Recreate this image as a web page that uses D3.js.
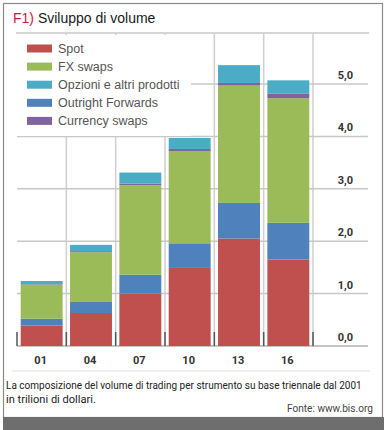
<!DOCTYPE html>
<html>
<head>
<meta charset="utf-8">
<script src="https://cdn.jsdelivr.net/npm/d3@7"></script>
<style>
  body { margin: 0; background: #fff; }
</style>
</head>
<body>
<div id="chart"></div>
<script>
// data: trillions of dollars, triennial survey
const years = ['01', '04', '07', '10', '13', '16'];
const spot = [0.39, 0.63, 1.00, 1.49, 2.05, 1.65];
const outright = [0.13, 0.21, 0.36, 0.47, 0.68, 0.70];
const fxSwaps = [0.65, 0.95, 1.71, 1.76, 2.24, 2.38];
const currencySwaps = [0.01, 0.02, 0.03, 0.04, 0.05, 0.09];
const options = [0.06, 0.12, 0.21, 0.21, 0.34, 0.25];
const yTicks = [0, 1, 2, 3, 4, 5];

// stack order bottom -> top
const series = [
    { key: 'spot', label: 'Spot', values: spot, color: '#c0504d' },
    { key: 'outright', label: 'Outright Forwards', values: outright, color: '#4f81bd' },
    { key: 'fx', label: 'FX swaps', values: fxSwaps, color: '#9bbb59' },
    { key: 'cs', label: 'Currency swaps', values: currencySwaps, color: '#8064a2' },
    { key: 'opt', label: 'Opzioni e altri prodotti', values: options, color: '#4bacc6' }
];
const legendOrder = ['spot', 'fx', 'opt', 'outright', 'cs'];

const width = 390, height = 430;

const table = years.map((yr, i) => {
    const row = { year: yr };
    series.forEach(s => row[s.key] = s.values[i]);
    return row;
});

const stack = d3.stack().keys(series.map(s => s.key));
const stacked = stack(table);

const x = d3.scaleBand()
    .domain(years)
    .range([17, 313])
    .paddingInner(0.15)
    .paddingOuter(0.075);

const y = d3.scaleLinear()
    .domain([0, 5])
    .range([346, 84]);

const color = d3.scaleOrdinal()
    .domain(series.map(s => s.key))
    .range(series.map(s => s.color));

const fmt = d3.formatLocale({ decimal: ',', thousands: '.', grouping: [3], currency: ['', '€'] }).format('.1f');

const svg = d3.create('svg')
    .attr('width', width)
    .attr('height', height)
    .style('font-family', 'Roboto, Arial, sans-serif');

document.getElementById('chart').appendChild(svg.node());

// frame + bottom shadow band
svg.append('rect')
    .attr('x', 3.5).attr('y', 3.5)
    .attr('width', 379).attr('height', 414)
    .attr('fill', '#fff')
    .attr('stroke', '#8a8a8a')
    .attr('stroke-width', 1.2);
svg.append('rect')
    .attr('x', 3).attr('y', 417)
    .attr('width', 381).attr('height', 13)
    .attr('fill', '#6e6e6e');

// title
const title = svg.append('text')
    .attr('x', 13)
    .attr('y', 23)
    .attr('font-size', '14px')
    .attr('font-family', 'Arial, Liberation Sans, sans-serif');
title.append('tspan').attr('fill', '#d4143c').text('F1)');
title.append('tspan').attr('fill', '#1a1a1a').text(' Sviluppo di volume');

// separator under title
svg.append('line')
    .attr('x1', 16).attr('x2', 369)
    .attr('y1', 33).attr('y2', 33)
    .attr('stroke', '#c8c8c8')
    .attr('stroke-width', 1.5);

// vertical grid lines between bars
const step = x.step();
const bounds = d3.range(years.length + 1).map(i => x.range()[0] + i * step);
svg.append('g')
    .selectAll('line')
    .data(bounds.slice(1))
    .join('line')
    .attr('x1', d => d).attr('x2', d => d)
    .attr('y1', 34).attr('y2', y(0))
    .attr('stroke', '#cfcfcf')
    .attr('stroke-width', 1.5);

// horizontal grid lines
svg.append('g')
    .selectAll('line')
    .data(yTicks)
    .join('line')
    .attr('x1', 17).attr('x2', 368)
    .attr('y1', d => y(d)).attr('y2', d => y(d))
    .attr('stroke', d => d === 0 ? '#b0b0b0' : '#c8c8c8')
    .attr('stroke-width', 1.5);

// y labels on right, above line
svg.append('g')
    .selectAll('text')
    .data(yTicks)
    .join('text')
    .attr('x', 353)
    .attr('y', d => y(d) - 5)
    .attr('text-anchor', 'end')
    .attr('font-size', '11px')
    .attr('font-weight', 'bold')
    .attr('fill', '#333')
    .text(d => fmt(d));

// legend background (hides grid behind it)
svg.append('rect')
    .attr('x', 17).attr('y', 35)
    .attr('width', 174).attr('height', 101)
    .attr('fill', '#fff');

// bars
svg.append('g')
    .selectAll('g')
    .data(stacked)
    .join('g')
    .attr('fill', d => color(d.key))
    .selectAll('rect')
    .data(d => d)
    .join('rect')
    .attr('x', d => x(d.data.year))
    .attr('width', x.bandwidth())
    .attr('y', d => y(d[1]))
    .attr('height', d => y(d[0]) - y(d[1]));

// dark ticks at bottom between bars
svg.append('g')
    .selectAll('line')
    .data(bounds)
    .join('line')
    .attr('x1', d => d).attr('x2', d => d)
    .attr('y1', 332).attr('y2', y(0))
    .attr('stroke', '#555')
    .attr('stroke-width', 1.5);

// x axis labels
const xAxis = svg.append('g')
    .attr('transform', `translate(0, ${y(0)})`)
    .call(d3.axisBottom(x).tickSize(0).tickPadding(10));
xAxis.select('.domain').remove();
xAxis.selectAll('text')
    .attr('font-size', '11px')
    .attr('font-weight', 'bold')
    .attr('font-family', 'Roboto, Arial, sans-serif')
    .attr('fill', '#333')
    .attr('dx', -1);

// separator under x labels
svg.append('line')
    .attr('x1', 12).attr('x2', 370)
    .attr('y1', 371).attr('y2', 371)
    .attr('stroke', '#e0e0e0')
    .attr('stroke-width', 1);

// legend
const legend = svg.append('g');
const entries = legend.selectAll('g')
    .data(legendOrder.map(k => series.find(s => s.key === k)))
    .join('g')
    .attr('transform', (d, i) => `translate(27, ${48.5 + i * 18.1})`);
entries.append('rect')
    .attr('x', 0).attr('y', -4)
    .attr('width', 25).attr('height', 8)
    .attr('fill', d => d.color);
entries.append('text')
    .attr('x', 31)
    .attr('y', 4.5)
    .attr('font-size', '12.5px')
    .attr('font-family', 'Arial, Liberation Sans, sans-serif')
    .attr('fill', '#555')
    .text(d => d.label);

// caption: condensed look, squeeze each line horizontally to its width
function condensed(txt, x0, y0, w, anchor, fill) {
    const g = svg.append('g');
    const t = g.append('text')
        .attr('font-size', '11px')
        .attr('fill', fill)
        .text(txt);
    const len = t.node().getComputedTextLength();
    const k = w / len;
    const left = anchor === 'end' ? x0 - w : x0;
    g.attr('transform', `translate(${left}, ${y0}) scale(${k}, 1)`);
}
condensed('La composizione del volume di trading per strumento su base triennale dal 2001', 6, 389, 356, 'start', '#222');
condensed('in trilioni di dollari.', 6, 403, 90, 'start', '#222');
condensed('Fonte: www.bis.org', 373, 412, 86, 'end', '#444');
</script>
</body>
</html>
